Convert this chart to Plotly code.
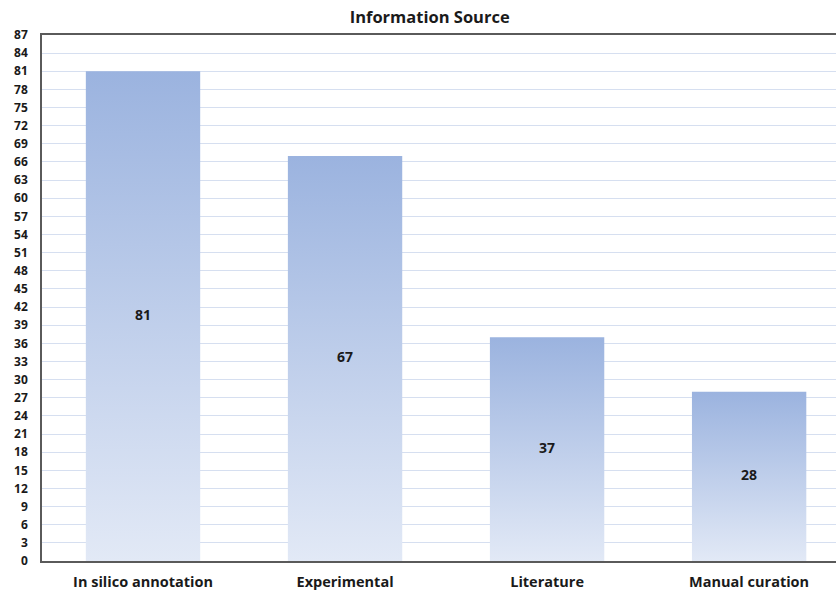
import plotly.graph_objects as go

# Number of entries per information source
categories = ["In silico annotation", "Experimental", "Literature", "Manual curation"]
counts = [81, 67, 37, 28]
y_ticks = list(range(0, 88, 3))

BAR_HALF = 0.283          # half of the bar width, in category units
TOP_COLOR = "#9bb3df"
BOTTOM_COLOR = "#e2e9f6"
FONT = "Open Sans"

fig = go.Figure()

# Each bar is a filled rectangle with a vertical gradient (light at the base, darker at the top)
for i, (cat, val) in enumerate(zip(categories, counts)):
    xs = [i - BAR_HALF, i + BAR_HALF, i + BAR_HALF, i - BAR_HALF, i - BAR_HALF]
    ys = [0, 0, val, val, 0]
    fig.add_trace(go.Scatter(
        x=xs, y=ys, mode="lines", fill="toself",
        line=dict(width=0, color="rgba(0,0,0,0)"),
        fillgradient=dict(type="vertical", start=0, stop=val,
                          colorscale=[[0, BOTTOM_COLOR], [1, TOP_COLOR]]),
        hoverinfo="skip", showlegend=False,
    ))

# Value labels in the middle of each bar
fig.add_trace(go.Scatter(
    x=list(range(len(categories))), y=[v / 2 for v in counts],
    mode="text", text=[str(v) for v in counts],
    textfont=dict(family=FONT, size=14, color="#1a1a1a", weight="bold"),
    hovertext=[f"{c}: {v}" for c, v in zip(categories, counts)],
    hoverinfo="text", showlegend=False,
))

fig.update_layout(
    width=836, height=591,
    margin=dict(l=42, r=0, t=35, b=30),
    paper_bgcolor="white", plot_bgcolor="white",
    title=dict(text="<b>Information Source</b>", x=0.514, xanchor="center",
               y=0.971, yanchor="middle",
               font=dict(family=FONT, size=16.5, color="#1a1a1a")),
    xaxis=dict(
        tickmode="array", tickvals=list(range(len(categories))), ticktext=categories,
        range=[-0.5, 3.43], showgrid=False, zeroline=False, automargin=False,
        showline=True, linecolor="#5a5a5a", linewidth=1.5, mirror=True,
        ticks="", ticklabelstandoff=7,
        tickfont=dict(family=FONT, size=14.5, color="#1a1a1a", weight="bold"),
    ),
    yaxis=dict(
        range=[0, 87], tickmode="array", tickvals=y_ticks, automargin=False,
        showgrid=True, gridcolor="#d6dff0", gridwidth=1, zeroline=False,
        showline=True, linecolor="#5a5a5a", linewidth=1.5,
        ticks="", ticklabelstandoff=10,
        tickfont=dict(family=FONT, size=12, color="#1a1a1a", weight="bold"),
    ),
)

fig.write_html("out.html")
